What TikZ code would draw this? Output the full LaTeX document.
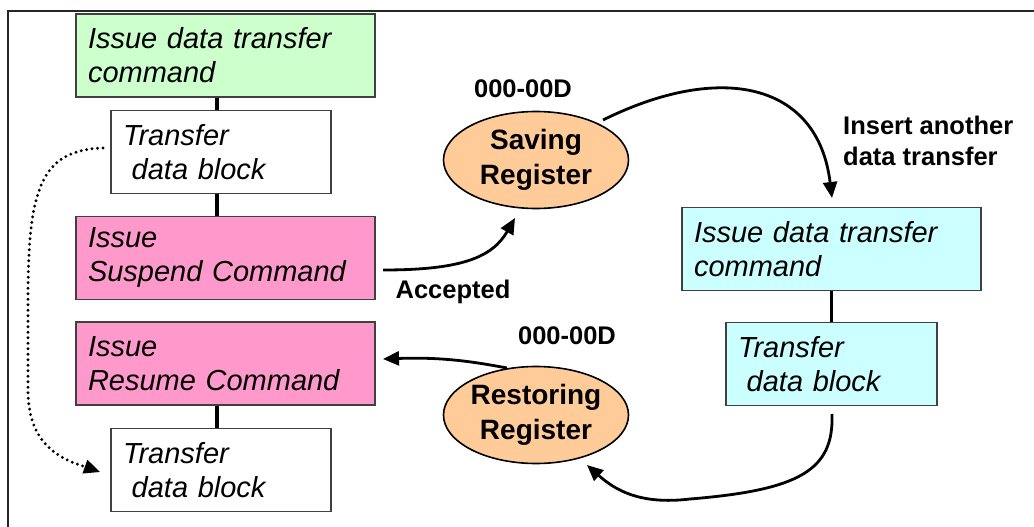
\documentclass[tikz,border=0pt]{standalone}
\usepackage{fontspec}
\setmainfont{Liberation Sans}
\usetikzlibrary{shapes.geometric,arrows.meta}
\definecolor{gfill}{HTML}{CCFFCC}
\definecolor{pfill}{HTML}{FF99CC}
\definecolor{cfill}{HTML}{CCFFFF}
\definecolor{ofill}{HTML}{FFCC99}
\definecolor{boxline}{HTML}{404040}
\begin{document}
\begin{tikzpicture}[x=1pt,y=-1pt,
  boxnode/.style={draw=boxline, line width=1.2pt, align=left, inner xsep=12pt, inner ysep=0pt,
    minimum height=83pt, font=\fontsize{29}{34}\selectfont\itshape},
  ellnode/.style={ellipse, draw=black, fill=ofill, line width=1.6pt, minimum width=185pt,
    minimum height=97pt, inner sep=0pt, align=center, font=\fontsize{28}{35}\selectfont\bfseries},
  lab/.style={font=\fontsize{25.5}{31}\selectfont\bfseries, inner sep=0pt, align=left},
  conn/.style={line width=3.6pt, black},
  arr/.style={line width=2.8pt, black, -{Triangle[length=16pt,width=14pt]}},
  dotarr/.style={line width=3.2pt, black, dash pattern=on 0pt off 5.5pt, line cap=round},
  dothead/.style={line width=2.4pt, black, -{Triangle[length=16pt,width=14pt]}}
]
\useasboundingbox (0,0) rectangle (1034,527);
% frame
\draw[line width=2pt, black!85] (8,527) -- (8,11) -- (1034,11);

% left column
\node[boxnode, fill=gfill, text width=275pt] (g1) at (225.5,55.5) {Issue data transfer\\command};
\node[boxnode, fill=white, text width=196pt] (w1) at (221,152) {Transfer\\\hspace*{0.3em}data block};
\node[boxnode, fill=pfill, text width=275pt] (p1) at (225.5,258) {Issue\\Suspend Command};
\node[boxnode, fill=pfill, text width=275pt] (p2) at (225.5,363.5) {Issue\\Resume Command};
\node[boxnode, fill=white, text width=196pt] (w2) at (221,470) {Transfer\\\hspace*{0.3em}data block};

% right column
\node[boxnode, fill=cfill, text width=275pt] (c1) at (831.5,249) {Issue data transfer\\command};
\node[boxnode, fill=cfill, text width=187pt] (c2) at (831.5,364) {Transfer\\\hspace*{0.3em}data block};

% ellipses
\node[ellnode] (sav) at (536,160) {Saving\\Register};
\node[ellnode] (res) at (536,415) {Restoring\\Register};

% labels
\node[lab] (l1) at (523,89) {000-00D};
\node[lab] (l2) at (567,336) {000-00D};
\node[lab] (l3) at (453,292) {Accepted};
\node[lab, anchor=west] (l4) at (843,141) {Insert another\\data transfer};

% vertical connectors
\coordinate (lx) at (217,0);
\draw[conn] (g1.south -| lx) -- (w1.north -| lx);
\draw[conn] (w1.south -| lx) -- (p1.north -| lx);
\draw[conn] (p2.south -| lx) -- (w2.north -| lx);
\draw[conn] (c1.south) -- (c2.north);

% curved arrows
\coordinate (a1s) at (383,270);
\coordinate (a1e) at (515,218);
\draw[arr] (a1s) .. controls (460,270) and (492,258) .. (a1e);

\coordinate (a2s) at (603,120);
\coordinate (a2e) at (832,198);
\draw[arr] (a2s) .. controls (720,62) and (818,82) .. (a2e);

\coordinate (a3s) at (507,368);
\coordinate (a3e) at (383,359);
\draw[arr] (a3s) .. controls (470,361) and (440,357) .. (a3e);

\coordinate (a4s) at (832,414);
\coordinate (a4m) at (690,499);
\coordinate (a4e) at (587,465);
\draw[line width=2.8pt] (a4s) .. controls (834,470) and (800,490) .. (a4m);
\draw[arr] (a4m) .. controls (640,505) and (615,490) .. (a4e);

% dotted arrow
\coordinate (d1s) at (103,148);
\coordinate (d1e) at (100,472);
\draw[dotarr] (d1s) .. controls (40,150) and (28,190) .. (28,300) -- (28,390) .. controls (28,440) and (55,458) .. (86,467);
\draw[dothead] (86,467) -- (d1e);
\end{tikzpicture}
\end{document}
